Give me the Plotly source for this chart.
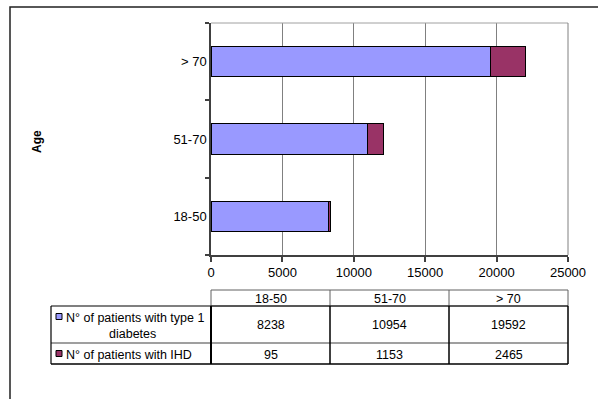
import plotly.graph_objects as go

# ---- data ----
age_groups = ["18-50", "51-70", "> 70"]
series_names = ["N° of patients with type 1 diabetes", "N° of patients with IHD"]
diabetes = [8238, 10954, 19592]
ihd = [95, 1153, 2465]
x_ticks = [0, 5000, 10000, 15000, 20000, 25000]

colors = ["#9999FF", "#993366"]
FONT = "Liberation Sans, Arial, sans-serif"

W_PX, H_PX = 598, 399
L, R, T, B = 211, 568, 23, 255
PW, PH = R - L, B - T


def px(x):
    return (x - L) / PW


def py(y):
    return (B - y) / PH


fig = go.Figure()
for name, vals, col in zip(series_names, [diabetes, ihd], colors):
    fig.add_trace(go.Bar(
        y=age_groups, x=vals, name=name, orientation="h",
        marker=dict(color=col, line=dict(color="#000000", width=1)),
        width=0.39, hoverinfo="x+y+name",
    ))

fig.update_layout(
    width=W_PX, height=H_PX,
    margin=dict(l=L, r=W_PX - R, t=T, b=H_PX - B),
    barmode="stack", showlegend=False,
    plot_bgcolor="white", paper_bgcolor="white",
    font=dict(family=FONT, size=13, color="#000000"),
)
fig.update_xaxes(
    range=[0, 25000], tickvals=x_ticks, ticktext=[str(v) for v in x_ticks],
    showgrid=True, gridcolor="#808080", gridwidth=1,
    showline=True, linecolor="#404040", linewidth=1.5,
    ticks="outside", ticklen=5, tickcolor="#404040", tickwidth=1.5,
    tickfont=dict(size=13, family=FONT), zeroline=False, fixedrange=True,
)
fig.update_yaxes(
    range=[-0.5, 2.5], type="category", tickson="boundaries",
    showgrid=False, showline=True, linecolor="#404040", linewidth=1.5,
    ticks="outside", ticklen=4, tickcolor="#404040", tickwidth=1.5,
    tickfont=dict(size=13, family=FONT), fixedrange=True,
)

shapes = []
# plot area top/right border
shapes.append(dict(type="line", xref="paper", yref="paper", x0=0, x1=1, y0=1, y1=1,
                   line=dict(color="#a0a0a0", width=1)))
shapes.append(dict(type="line", xref="paper", yref="paper", x0=1, x1=1, y0=0, y1=1,
                   line=dict(color="#808080", width=1)))
# outer chart border
shapes.append(dict(type="rect", xref="paper", yref="paper", x0=px(10), x1=px(640),
                   y0=py(7), y1=py(440), line=dict(color="#202020", width=1.5)))

# data table geometry (pixels)
tbl_left, col0, col1, col2, tbl_right = 51, 211, 330, 449, 568
y_head_top, y_head_bot, y_row1_bot, y_row2_bot = 290, 306, 343, 364
cols = [col0, col1, col2, tbl_right]


def hline(x0, x1, y, color="#000000", w=1.2):
    shapes.append(dict(type="line", xref="paper", yref="paper", x0=px(x0), x1=px(x1),
                       y0=py(y), y1=py(y), line=dict(color=color, width=w)))


def vline(x, y0, y1, color="#000000", w=1.2):
    shapes.append(dict(type="line", xref="paper", yref="paper", x0=px(x), x1=px(x),
                       y0=py(y0), y1=py(y1), line=dict(color=color, width=w)))


# header row
hline(col0, tbl_right, y_head_top, "#606060", 1)
for c in cols:
    vline(c, y_head_top, y_head_bot, "#606060", 1)
hline(col0, tbl_right, y_head_bot, "#606060", 1)
# body
hline(tbl_left, tbl_right, y_head_bot, "#000000", 1.2)
hline(tbl_left, tbl_right, y_row1_bot, "#404040", 1.2)
hline(tbl_left, tbl_right, y_row2_bot, "#000000", 1.5)
vline(tbl_left, y_head_bot, y_row2_bot, "#000000", 1.2)
vline(col0, y_head_bot, y_row2_bot, "#000000", 2)
vline(col1, y_head_bot, y_row2_bot, "#000000", 1.5)
vline(col2, y_head_bot, y_row2_bot, "#000000", 1.5)
vline(tbl_right, y_head_bot, y_row2_bot, "#000000", 1.5)

# legend keys
for (ky, col) in [(313.5, colors[0]), (350.5, colors[1])]:
    shapes.append(dict(type="rect", xref="paper", yref="paper", x0=px(56), x1=px(62),
                       y0=py(ky), y1=py(ky + 6), fillcolor=col,
                       line=dict(color="#000000", width=1)))

annotations = []


def text(x, y, s, anchor="center", size=12.5, bold=False):
    annotations.append(dict(xref="paper", yref="paper", x=px(x), y=py(y), text=s,
                            showarrow=False, xanchor=anchor, yanchor="middle",
                            font=dict(family=FONT, size=size, color="#000000",
                                      weight="bold" if bold else "normal")))


centers = [(cols[i] + cols[i + 1]) / 2 for i in range(3)]
for i, g in enumerate(age_groups):
    text(centers[i], 298.5, g)
    text(centers[i], 325, str(diabetes[i]))
    text(centers[i], 354.5, str(ihd[i]))

text(64, 317.5, "N° of patients with type 1", anchor="left")
text(132, 333.5, "diabetes")
text(64, 355, "N° of patients with IHD", anchor="left")

# axis title
annotations.append(dict(xref="paper", yref="paper", x=px(36.5), y=py(141.5), text="<b>Age</b>",
                        showarrow=False, textangle=-90, xanchor="center", yanchor="middle",
                        font=dict(family=FONT, size=12, color="#000000")))

fig.update_layout(shapes=shapes, annotations=annotations)
fig.write_html(
    "out.html",
    config={"displayModeBar": False},
    post_script="document.body.style.margin='0px';document.body.style.overflow='hidden';",
)
